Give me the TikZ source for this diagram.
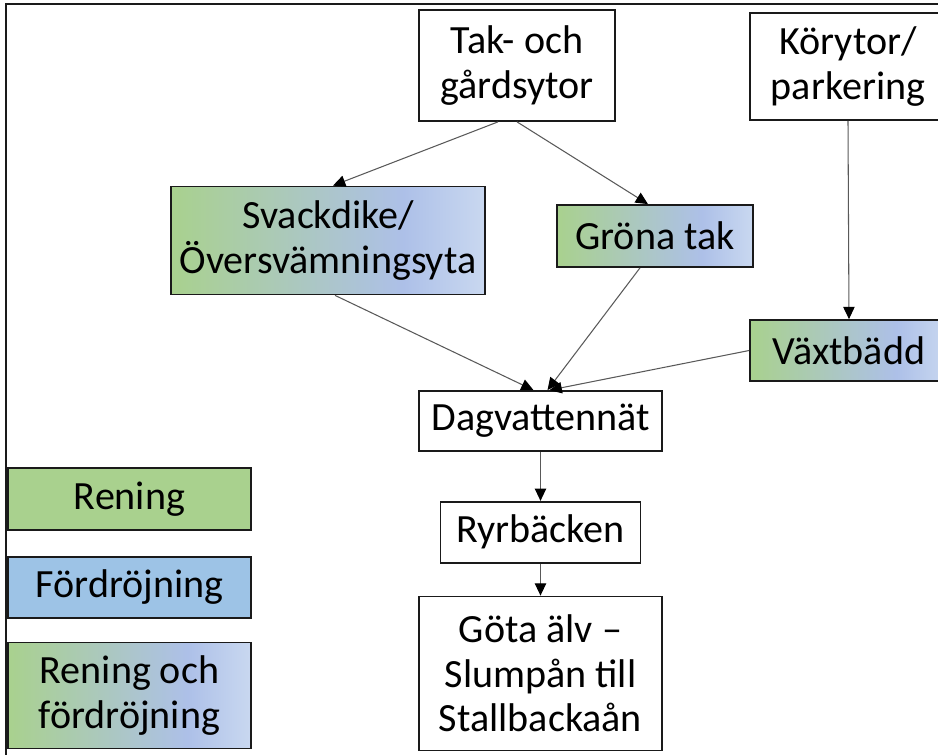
\documentclass[tikz,border=0pt]{standalone}
\usepackage{fontspec}
\setmainfont{Carlito}
\usetikzlibrary{arrows.meta, positioning, calc}
\definecolor{fGreen}{HTML}{A9D18E}
\definecolor{fBlue}{HTML}{9DC3E6}
\definecolor{fPeri}{HTML}{ADC0E8}
\definecolor{fPale}{HTML}{C9D8F0}
\definecolor{bdr}{HTML}{1A1A1A}
\definecolor{arr}{HTML}{595959}
\pgfdeclarehorizontalshading{renfor}{100bp}{color(0bp)=(fGreen); color(25bp)=(fGreen);
  color(62bp)=(fPeri); color(75bp)=(fPale); color(100bp)=(fPale)}
\newcommand{\boxf}{\fontsize{22.8}{25.2}\selectfont}
\tikzset{
  B/.style={draw=bdr, line width=1pt, font=\boxf, align=center, inner sep=0pt},
  W/.style={B, fill=white},
  G/.style={B, fill=fGreen},
  Bl/.style={B, fill=fBlue},
  RF/.style={B, shading=renfor},
  A/.style={-{Triangle[length=7pt,width=6.5pt,color=black]}, draw=arr, line width=0.6pt},
}

\begin{document}
\begin{tikzpicture}[x=0.02cm, y=-0.02cm]
\useasboundingbox (0,0) rectangle (938,755);
\clip (0,0) rectangle (938,755);
\draw[draw=bdr, line width=1.2pt] (6,4) rectangle (960,775);

% ── sources ─────────────────────────────────────────────────────────────────
\node[W, minimum width=3.92cm, minimum height=2.22cm] (tak) at (517,65.5) {Tak- och\\gårdsytor};
\node[W, minimum width=3.92cm, minimum height=2.14cm] (kor) at (848,66.5) {Körytor/\\parkering};

% ── measures ────────────────────────────────────────────────────────────────
\node[RF, minimum width=6.28cm, minimum height=2.16cm] (svack) at (328,240.5) {Svackdike/\\Översvämningsyta};
\node[RF, minimum width=3.92cm, minimum height=1.24cm] (grona) at (655,236) {Gröna tak};
\node[RF, minimum width=3.96cm, minimum height=1.22cm] (vaxt) at (849,350.5) {Växtbädd};

% ── recipient chain ─────────────────────────────────────────────────────────
\node[W, minimum width=4.86cm, minimum height=1.2cm] (dag) at (540.5,421) {Dagvattennät};
\node[W, minimum width=4.0cm, minimum height=1.22cm, below=0.98cm of dag] (ryr) {Ryrbäcken};
\node[W, minimum width=4.86cm, minimum height=3.08cm, below=0.64cm of ryr] (gota) {Göta älv –\\Slumpån till\\Stallbackaån};

\draw[A] ($(tak.south)+(-19,0)$) -- ($(svack.north)+(5,0)$);
\draw[A] (tak.south) -- ($(grona.north)+(-7,0)$);
\draw[A] (kor.south) -- (vaxt.north);
\draw[A] ($(svack.south)+(7,0)$) -- ($(dag.north)+(-7,0)$);
\draw[A] ($(grona.south)+(-15,0)$) -- ($(dag.north)+(7,0)$);
\draw[A] (vaxt.west) -- ($(dag.north)+(9,0)$);
\draw[A] (dag) -- (ryr);
\draw[A] (ryr) -- (gota);

% ── legend ──────────────────────────────────────────────────────────────────
\node[G, minimum width=4.86cm, minimum height=1.24cm] (ren) at (129.5,499) {Rening};
\node[Bl, minimum width=4.86cm, minimum height=1.22cm, below=0.5cm of ren] (ford) {Fördröjning};
\node[RF, minimum width=4.86cm, minimum height=2.12cm, below=0.46cm of ford] (renford) {Rening och\\fördröjning};

\end{tikzpicture}
\end{document}
